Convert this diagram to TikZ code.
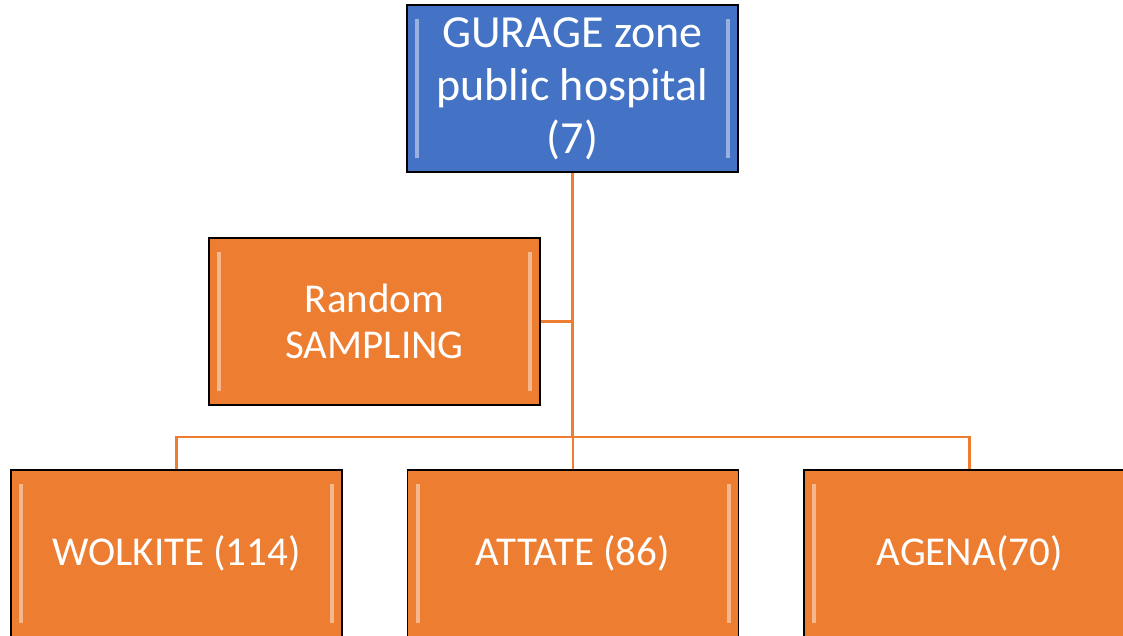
\documentclass[tikz,border=0pt]{standalone}
\usepackage{fontspec}
\setmainfont{Carlito}
\usetikzlibrary{positioning}
\definecolor{hospblue}{HTML}{4472C4}
\definecolor{sampleorange}{HTML}{ED7D31}

\tikzset{
	box/.style={draw=black,line width=1.5pt,minimum width=331pt,minimum height=167pt,
		inner sep=0pt,align=center,text=white,
		path picture={
			%bevel strips
			\fill[white,opacity=.45] ([xshift=8pt,yshift=-14pt]path picture bounding box.north west)
				rectangle ([xshift=12pt,yshift=14pt]path picture bounding box.south west);
			\fill[white,opacity=.45] ([xshift=-8pt,yshift=-14pt]path picture bounding box.north east)
				rectangle ([xshift=-12pt,yshift=14pt]path picture bounding box.south east);
		}},
	hospbox/.style={box,fill=hospblue,font=\fontsize{46}{53}\selectfont},
	samplebox/.style={box,fill=sampleorange,font=\fontsize{41}{46}\selectfont},
	link/.style={draw=sampleorange,line width=2.5pt}
}

\begin{document}
\begin{tikzpicture}[x=1pt,y=-1pt]
	\useasboundingbox (0,0) rectangle (1123,636);
	%zone level
	\node[hospbox] (hosp) at (572.5,88.5) {GURAGE zone\\public hospital\\(7)};
	\node[samplebox] (rand) at (374.5,321.5) {Random\\SAMPLING};
	\coordinate (bus) at (572.5,437);
	%hospitals
	\foreach \nm/\xx/\txt in {wolk/176.5/{WOLKITE (114)},atta/573/{ATTATE (86)},agen/969.5/{AGENA(70)}}{
		\node[samplebox] (\nm) at (\xx,553.5) {\txt};
	}
	%connectors
	\draw[link] (hosp.south) -- (bus);
	\draw[link] (rand.east) -- (rand.east -| hosp.south);
	\draw[link] (bus) -| (wolk.north);
	\draw[link] (bus) -| (agen.north);
	\draw[link] (bus) -- (bus -| atta.north) -- (atta.north);
\end{tikzpicture}
\end{document}
